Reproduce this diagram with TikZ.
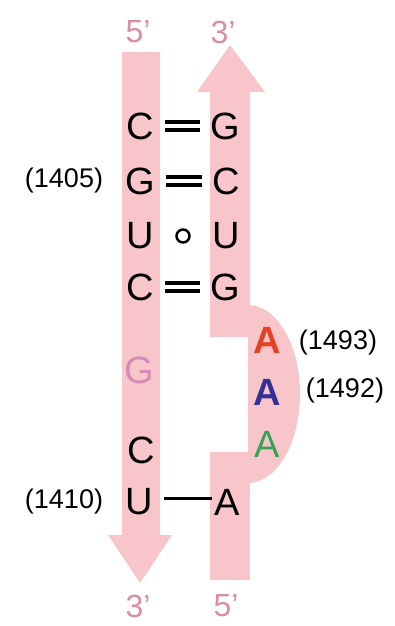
\documentclass[tikz,border=0pt]{standalone}
\usepackage{fontspec}
\setmainfont{Liberation Sans}
\usetikzlibrary{calc}

\definecolor{strandpink}{RGB}{248,198,202}
\definecolor{endpink}{RGB}{218,142,162}
\definecolor{gmauve}{RGB}{214,138,184}
\definecolor{ared}{RGB}{228,66,36}
\definecolor{ablue}{RGB}{52,48,150}
\definecolor{agreen}{RGB}{58,160,82}

\begin{document}
\begin{tikzpicture}[
  x=1pt, y=-1pt,
  strand/.style={fill=strandpink, draw=none},
  base/.style={inner sep=0pt, font=\fontsize{38}{40}\selectfont},
  numlbl/.style={inner sep=0pt, font=\fontsize{27}{30}\selectfont},
  endl/.style={inner sep=0pt, text=endpink, font=\fontsize{32}{34}\selectfont},
  bond/.style={line width=3pt, shorten <=11pt, shorten >=10pt},
  dbond/.style={bond, line width=4pt, double, double distance=4pt}
]
  \useasboundingbox (0,0) rectangle (394,626);

  % strands
  \fill[strand] (122,52) -- (160,52) -- (160,535) -- (172,535) -- (140,583)
    -- (108,535) -- (122,535) -- cycle;
  \fill[strand] (230,45) -- (265,92) -- (250,92) -- (250,337) -- (210,337)
    -- (210,92) -- (197,92) -- cycle;
  \fill[strand] (210,452) rectangle (250,580);
  \fill[strand] (248,305) arc[start angle=-90, end angle=90, x radius=52, y radius=89] -- cycle;

  % strand ends
  \node[endl] (top5) at (138,32) {5'};
  \node[endl] (top3) at (223,32) {3'};
  \node[endl] (bot3) at (138,606) {3'};
  \node[endl] (bot5) at (226,606) {5'};

  % left strand
  \node[base] (l1) at (140,126) {C};
  \node[base] (l2) at (140,181) {G};
  \node[base] (l3) at (140,236) {U};
  \node[base] (l4) at (140,287) {C};
  \node[base, text=gmauve] (l5) at (139,370) {G};
  \node[base] (l6) at (141,450) {C};
  \node[base] (l7) at (139,502) {U};

  % right strand
  \node[base] (r1) at (225,126) {G};
  \node[base] (r2) at (226,181) {C};
  \node[base] (r3) at (226,236) {U};
  \node[base] (r4) at (225,287) {G};
  \node[base, text=ared, font=\fontsize{38}{40}\selectfont\bfseries] (b1) at (267,340) {A};
  \node[base, text=ablue, font=\fontsize{38}{40}\selectfont\bfseries] (b2) at (267,392) {A};
  \node[base, text=agreen] (b3) at (267,444) {A};
  \node[base] (r5) at (227,502) {A};

  % numbering
  \node[numlbl] (n1405) at (64,181) {(1405)};
  \node[numlbl] (n1410) at (64,502) {(1410)};
  \node[numlbl] (n1493) at (338,343) {(1493)};
  \node[numlbl] (n1492) at (345,391) {(1492)};

  % pairs
  \draw[dbond] (l1) -- (r1);
  \draw[dbond] (l2) -- (r2);
  \node[circle, draw, line width=2.5pt, minimum size=13pt, inner sep=0pt] (wob) at ($(l3)!0.5!(r3)$) {};
  \draw[dbond] (l4) -- (r4);
  \draw[bond, shorten >=2pt] ([yshift=4pt]l7.east) -- ([yshift=4pt]r5.west);
\end{tikzpicture}
\end{document}
